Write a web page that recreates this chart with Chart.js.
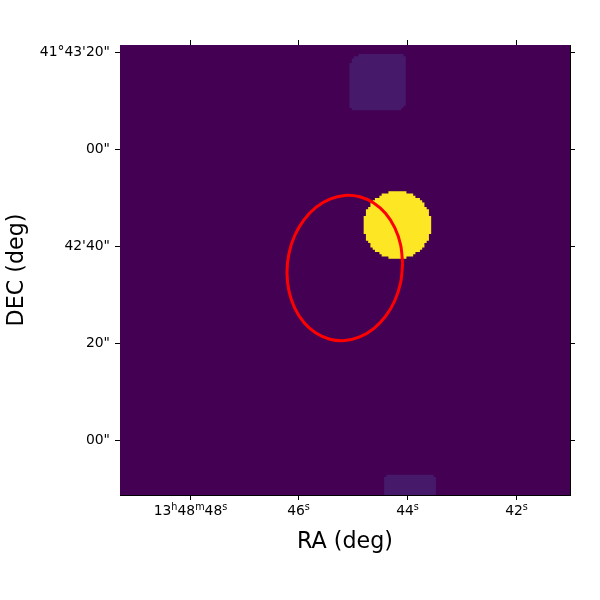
<!DOCTYPE html>
<html>
<head>
<meta charset="utf-8">
<style>html,body{margin:0;padding:0;background:#fff}canvas{display:block}</style>
<script src="https://cdn.jsdelivr.net/npm/chart.js@4"></script>
</head>
<body>
<canvas id="c" width="600" height="600"></canvas>
<script>
const imageSize = 200;
const raTicks = [31.33, 79.33, 127.78, 176.22];
const raLabelRuns = [["13","h","48","m","48","s"], ["46","s"], ["44","s"], ["42","s"]];
const decTicks = [24.22, 67.33, 110.44, 153.56, 196.67];
const decLabels = ['00"', '20"', "42'40\"", '00"', "41°43'20\""];

const discFirstRow = 105;
const discStarts = [119.3,116.3,115.3,113.3,112.3,111.3,111.3,110.3,109.3,109.3,109.3,108.3,108.3,108.3,108.3,108.3,108.3,108.3,108.3,109.3,109.3,109.3,110.3,111.3,111.3,112.3,113.3,115.3,116.3,119.3];
const discEnds = [127.3,130.3,131.3,133.3,134.3,135.3,135.3,136.3,137.3,137.3,137.3,138.3,138.3,138.3,138.3,138.3,138.3,138.3,138.3,137.3,137.3,137.3,136.3,135.3,135.3,134.3,133.3,131.3,130.3,127.3];

const topPatchFirstRow = 171;
const topPatchStarts = [103,102,102,102,102,102,102,102,102,102,102,102,102,102,102,102,102,102,102,102,102,103,103,104,106];
const topPatchEnds = [125,126,127,127,127,127,127,127,127,127,127,127,127,127,127,127,127,127,127,127,127,127,127,127,126];

const lowPatchFirstRow = 0;
const lowPatchStarts = [117.4,117.4,117.4,117.4,117.4,117.4,117.4,117.4,118.4];
const lowPatchEnds = [140.4,140.4,140.4,140.4,140.4,140.4,140.4,140.4,139.4];

const ellipseCols = [125.6,124.73,122.16,118.07,112.76,106.56,99.91,93.26,87.06,81.75,77.66,75.09,74.22,75.09,77.66,81.75,87.06,93.26,99.91,106.56,112.76,118.07,122.16,124.73,125.6];
const ellipseRows = [102.85,111.13,118.73,125.10,129.82,132.57,133.16,131.55,127.86,122.32,115.33,107.35,98.93,90.65,83.05,76.68,71.96,69.21,68.62,70.23,73.92,79.46,86.45,94.43,102.85];

function outline(firstRow, starts, ends) {
  const pts = [];
  ends.forEach((e, i) => { pts.push({x: e, y: firstRow + i}, {x: e, y: firstRow + i + 1}); });
  for (let i = starts.length - 1; i >= 0; i--) {
    pts.push({x: starts[i], y: firstRow + i + 1}, {x: starts[i], y: firstRow + i});
  }
  pts.push({x: ends[0], y: firstRow});
  return pts;
}
function area(data, color) {
  return {data, showLine: true, fill: 'shape', backgroundColor: color, borderWidth: 0, borderColor: color, pointRadius: 0, tension: 0};
}
const imageFrame = [{x:0,y:0},{x:imageSize,y:0},{x:imageSize,y:imageSize},{x:0,y:imageSize},{x:0,y:0}];

function axis(position, ticks, labels, boxSize, showLabels, title) {
  const horizontal = position === 'bottom' || position === 'top';
  return {
    type: 'linear', position, min: 0, max: imageSize, display: true,
    afterBuildTicks: s => { s.ticks = ticks.map(value => ({value})); },
    afterFit: s => { if (horizontal) s.height = boxSize; else s.width = boxSize; },
    border: {display: true, color: '#000', width: 1},
    grid: {drawOnChartArea: false, drawTicks: true, color: '#000', lineWidth: 1, tickLength: 5, tickColor: '#000'},
    ticks: {
      display: showLabels, autoSkip: false, maxRotation: 0, minRotation: 0, padding: 5,
      color: '#000', font: {family: '"DejaVu Sans"', size: 13.9},
      callback: (v, i) => labels ? labels[i] : ''
    },
    title: title
  };
}

const raTickText = {
  id: 'raTickText',
  afterDraw(chart) {
    const ctx = chart.ctx, scale = chart.scales.x, baseline = scale.top + 20;
    const mainFont = '13.9px "DejaVu Sans"', supFont = '9.7px "DejaVu Sans"';
    ctx.save();
    ctx.fillStyle = '#000';
    ctx.textAlign = 'left';
    ctx.textBaseline = 'alphabetic';
    raLabelRuns.forEach((runs, i) => {
      let total = 0;
      runs.forEach((t, k) => { ctx.font = k % 2 ? supFont : mainFont; total += ctx.measureText(t).width; });
      let x = scale.getPixelForValue(raTicks[i]) - total / 2;
      runs.forEach((t, k) => {
        ctx.font = k % 2 ? supFont : mainFont;
        ctx.fillText(t, x, k % 2 ? baseline - 5.5 : baseline);
        x += ctx.measureText(t).width;
      });
    });
    ctx.restore();
  }
};

new Chart(document.getElementById('c'), {
  type: 'scatter',
  plugins: [raTickText],
  data: {datasets: [
    {data: ellipseCols.map((x, i) => ({x, y: ellipseRows[i]})), showLine: true, fill: false, borderColor: '#ff0000', borderWidth: 3, pointRadius: 0, tension: 0.35},
    area(outline(discFirstRow, discStarts, discEnds), '#fde725'),
    area(outline(topPatchFirstRow, topPatchStarts, topPatchEnds), '#47196b'),
    area(outline(lowPatchFirstRow, lowPatchStarts, lowPatchEnds), '#47196b'),
    area(imageFrame, '#440154')
  ]},
  options: {
    responsive: false, animation: false, devicePixelRatio: 1,
    layout: {padding: 0},
    plugins: {legend: {display: false}, tooltip: {enabled: false}},
    events: [],
    scales: {
      x: axis('bottom', raTicks, null, 105, false, {display: true, text: 'RA (deg)', color: '#000', font: {family: '"DejaVu Sans"', size: 22.2}, padding: {top: 0, bottom: 44.7}}),
      y: axis('left', decTicks, decLabels, 120, true, {display: true, text: 'DEC (deg)', color: '#000', font: {family: '"DejaVu Sans"', size: 22.2}, padding: {top: 3.7, bottom: 0}}),
      x2: axis('top', raTicks, null, 45, false, {display: false}),
      y2: axis('right', decTicks, null, 30, false, {display: false})
    }
  }
});
</script>
</body>
</html>
